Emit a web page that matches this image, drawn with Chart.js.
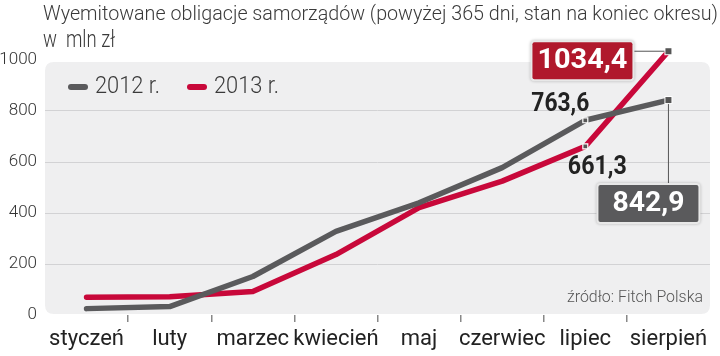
<!DOCTYPE html>
<html>
<head>
<meta charset="utf-8">
<script src="https://cdn.jsdelivr.net/npm/chart.js@4"></script>
<style>
html,body{margin:0;padding:0;background:#fff;}
#wrap{width:720px;height:356px;position:relative;}
</style>
</head>
<body>
<div id="wrap"><canvas id="c" width="720" height="356"></canvas></div>
<script>
const titleLine1 = 'Wyemitowane obligacje samorządów (powyżej 365 dni, stan na koniec okresu)';
const titleLine2 = 'w  mln zł';
const sourceText = 'źródło: Fitch Polska';
const months = ['styczeń', 'luty', 'marzec', 'kwiecień', 'maj', 'czerwiec', 'lipiec', 'sierpień'];
const seriesNames = ['2012 r.', '2013 r.'];
const values2012 = [25, 33, 151, 328, 440, 578, 763.6, 842.9];
const values2013 = [70, 72, 92, 237, 421, 525, 661.3, 1034.4];
const yTicks = [0, 200, 400, 600, 800, 1000];

const GRAY = '#5a5a5c';
const RED = '#c8083a';
const FONT = 'Roboto, "Liberation Sans", sans-serif';

function fmt(v) { return v.toFixed(1).replace('.', ','); }

function drawFit(ctx, text, x, y, font, targetW, align, color, baseline) {
  ctx.save();
  ctx.font = font;
  ctx.fillStyle = color;
  ctx.textBaseline = baseline || 'middle';
  ctx.textAlign = 'left';
  const w = ctx.measureText(text).width;
  const s = targetW ? targetW / w : 1;
  const rw = w * s;
  let x0 = x;
  if (align === 'center') x0 = x - rw / 2;
  else if (align === 'right') x0 = x - rw;
  ctx.translate(x0, y);
  ctx.scale(s, 1);
  ctx.fillText(text, 0, 0);
  ctx.restore();
}

function roundRect(ctx, x, y, w, h, r) {
  ctx.beginPath();
  ctx.moveTo(x + r, y);
  ctx.lineTo(x + w - r, y);
  ctx.quadraticCurveTo(x + w, y, x + w, y + r);
  ctx.lineTo(x + w, y + h - r);
  ctx.quadraticCurveTo(x + w, y + h, x + w - r, y + h);
  ctx.lineTo(x + r, y + h);
  ctx.quadraticCurveTo(x, y + h, x, y + h - r);
  ctx.lineTo(x, y + r);
  ctx.quadraticCurveTo(x, y, x + r, y);
  ctx.closePath();
}

const bgPlugin = {
  id: 'bg',
  beforeDraw(chart) {
    const { ctx, chartArea: a } = chart;
    ctx.save();
    ctx.fillStyle = '#efeff0';
    roundRect(ctx, a.left, a.top + 2, a.right - a.left, a.bottom - a.top - 3, 9);
    ctx.fill();
    ctx.restore();
  }
};

function box(ctx, x, y, w, h, fill) {
  ctx.save();
  ctx.shadowColor = 'rgba(0,0,0,0.25)';
  ctx.shadowBlur = 3;
  ctx.fillStyle = '#e8e8e8';
  roundRect(ctx, x - 2, y - 2, w + 4, h + 4, 4);
  ctx.fill();
  ctx.restore();
  ctx.save();
  ctx.fillStyle = fill;
  roundRect(ctx, x, y, w, h, 2);
  ctx.fill();
  ctx.restore();
}

const annPlugin = {
  id: 'ann',
  afterDraw(chart) {
    const { ctx } = chart;
    // titles
    drawFit(ctx, titleLine1, 43, 20, '300 21px ' + FONT, 675, 'left', '#3a3a3a', 'alphabetic');
    drawFit(ctx, titleLine2, 43, 47, '300 23px ' + FONT, 72, 'left', '#3a3a3a', 'alphabetic');
    // legend
    const ds = chart.data.datasets;
    const legX = [68, 187];
    ds.forEach((d, i) => {
      ctx.save();
      ctx.strokeStyle = d.borderColor;
      ctx.lineWidth = 6;
      ctx.lineCap = 'round';
      ctx.beginPath();
      ctx.moveTo(legX[i] + 3, 87);
      ctx.lineTo(legX[i] + 17, 87);
      ctx.stroke();
      ctx.restore();
      drawFit(ctx, d.label, legX[i] + 27, 87, '300 23px ' + FONT, 65, 'left', '#3a3a3a');
    });
    // source
    drawFit(ctx, sourceText, 703, 298, '300 16px ' + FONT, 136, 'right', '#555');

    const m0 = chart.getDatasetMeta(0).data;
    const m1 = chart.getDatasetMeta(1).data;
    const n = months.length - 1;
    // connectors
    ctx.save();
    ctx.strokeStyle = '#555';
    ctx.lineWidth = 1;
    ctx.beginPath();
    const pR = m1[n];
    ctx.moveTo(pR.x - 36, pR.y);
    ctx.lineTo(pR.x, pR.y);
    const pG = m0[n];
    ctx.moveTo(pG.x, pG.y);
    ctx.lineTo(pG.x, pG.y + 85);
    ctx.stroke();
    ctx.restore();
    // redraw end markers above connectors
    [pR, pG].forEach(p => {
      ctx.save();
      ctx.fillStyle = '#fff';
      ctx.fillRect(p.x - 4, p.y - 4, 8, 8);
      ctx.fillStyle = '#555';
      ctx.fillRect(p.x - 3, p.y - 3, 6, 6);
      ctx.restore();
    });
    // boxes
    box(ctx, pR.x - 136, pR.y - 9, 100, 37, '#b0182c');
    drawFit(ctx, fmt(values2013[n]), pR.x - 86, pR.y + 10, 'bold 28px ' + FONT, 90, 'center', '#fff');
    box(ctx, pG.x - 70, pG.y + 85, 100, 37, GRAY);
    drawFit(ctx, fmt(values2012[n]), pG.x - 20, pG.y + 104, 'bold 28px ' + FONT, 72, 'center', '#fff');
    // lipiec labels
    const l0 = m0[n - 1], l1 = m1[n - 1];
    drawFit(ctx, fmt(values2012[n - 1]), l0.x + 4, l0.y - 16, 'bold 25px ' + FONT, 58, 'right', '#222');
    drawFit(ctx, fmt(values2013[n - 1]), l1.x + 12, l1.y + 21, 'bold 25px ' + FONT, 59, 'center', '#222');
  }
};

const ptR = months.map((m, i) => i >= months.length - 2 ? 3.5 : 0);

new Chart(document.getElementById('c'), {
  type: 'line',
  data: {
    labels: months,
    datasets: [
      { label: seriesNames[0], data: values2012, borderColor: GRAY, borderWidth: 5.5, clip: false,
        borderCapStyle: 'round', borderJoinStyle: 'round', tension: 0,
        pointStyle: 'rect', pointRadius: ptR, pointBackgroundColor: '#555', pointBorderColor: '#fff', pointBorderWidth: 1.2 },
      { label: seriesNames[1], data: values2013, borderColor: RED, borderWidth: 5.5, clip: false,
        borderCapStyle: 'round', borderJoinStyle: 'round', tension: 0,
        pointStyle: 'rect', pointRadius: ptR, pointBackgroundColor: '#555', pointBorderColor: '#fff', pointBorderWidth: 1.2 }
    ]
  },
  options: {
    responsive: false,
    animation: false,
    events: [],
    layout: { padding: { top: 60, right: 10, left: 0, bottom: 0 } },
    plugins: { legend: { display: false }, title: { display: false }, tooltip: { enabled: false } },
    scales: {
      x: {
        offset: true,
        border: { display: false },
        grid: {
          offset: true,
          drawOnChartArea: false,
          drawTicks: true,
          tickLength: 7,
          color: (c) => (c.tick === undefined || c.index === 0) ? 'rgba(0,0,0,0)' : '#888',
          lineWidth: 1.5
        },
        ticks: { font: { family: FONT, size: 22 }, color: '#222', padding: 4, maxRotation: 0, autoSkip: false },
        afterFit(s) { s.height = 41; }
      },
      y: {
        min: 0, max: 1000,
        border: { display: false },
        afterBuildTicks(s) { s.ticks = yTicks.map(v => ({ value: v })); },
        grid: {
          drawTicks: false,
          color: (c) => (c.tick && (c.tick.value === 0 || c.tick.value === 1000)) ? 'rgba(0,0,0,0)' : '#d2d2d4',
          lineWidth: 1
        },
        ticks: { font: { family: FONT, size: 17, weight: '300' }, color: '#333', padding: 8,
                 callback: (v) => String(v) },
        afterFit(s) { s.width = 45; }
      }
    }
  },
  plugins: [bgPlugin, annPlugin]
});
</script>
</body>
</html>
